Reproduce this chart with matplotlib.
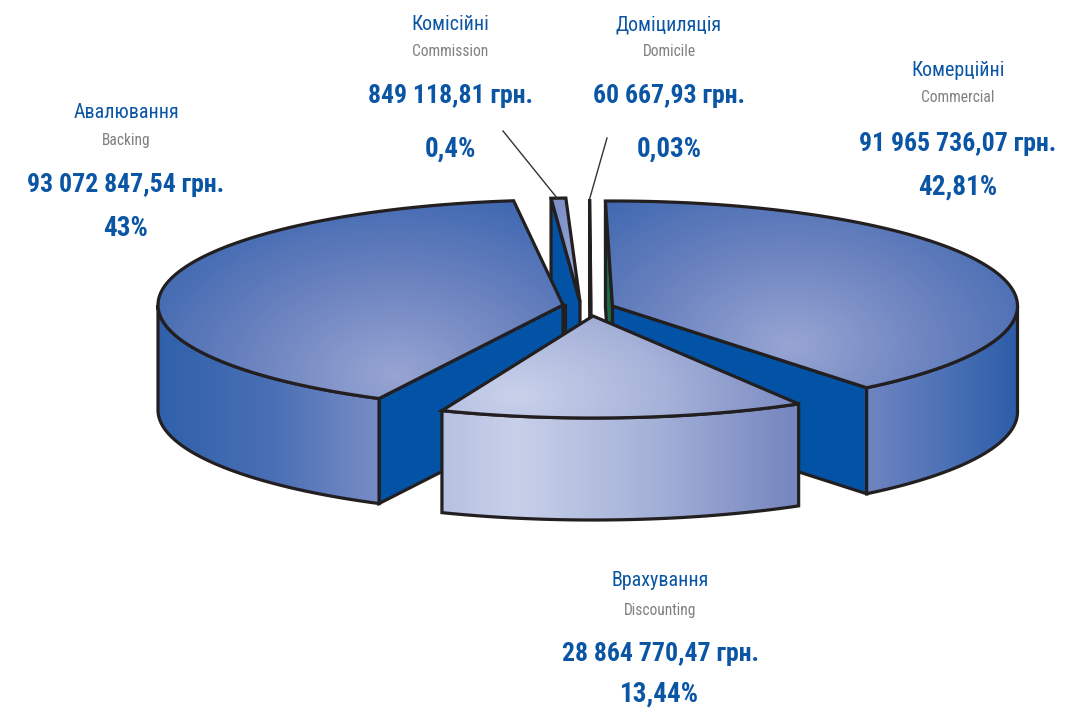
import numpy as np
import matplotlib
matplotlib.use("Agg")
import matplotlib.pyplot as plt
from matplotlib.colors import LinearSegmentedColormap
from matplotlib.patches import Polygon

names_uk = ["Авалювання", "Комісійні", "Доміциляція", "Комерційні", "Врахування"]
names_en = ["Backing", "Commission", "Domicile", "Commercial", "Discounting"]
amounts = ["93 072 847,54 грн.", "849 118,81 грн.", "60 667,93 грн.", "91 965 736,07 грн.", "28 864 770,47 грн."]
percent_labels = ["43%", "0,4%", "0,03%", "42,81%", "13,44%"]
shares = [43.0, 0.4, 0.03, 42.81, 13.44]

# layout of the exploded pie (pixel space)
A = 405.0
B = {0: 105.0, 1: 104.0, 2: 104.0, 3: 105.0, 4: 102.0}
H = {0: 105.0, 1: 105.0, 2: 105.0, 3: 106.0, 4: 102.0}
apex = {0: (563, 305), 1: (580, 302), 2: (591, 303), 3: (612.5, 306), 4: (593, 316)}
start = {0: 97.0, 1: 94.1, 2: 90.2, 3: 91.0, 4: -111.9}   # param angle where each wedge begins
scale = {0: 3.395, 1: 5.25, 2: 3.4, 3: 3.32, 4: 3.9}      # param degrees per percent
direction = {0: 1, 1: -1, 2: -1, 3: -1, 4: 1}

plt.rcParams['font.family'] = ['Roboto Condensed', 'Liberation Sans', 'DejaVu Sans']
INK = "#231f20"
BLUE = "#0a55a4"
DARK = "#0253a5"
GREEN = "#1d6b45"
LW = 2.3

fig = plt.figure(figsize=(10.84, 7.08), dpi=100)
ax = fig.add_axes([0, 0, 1, 1])
ax.set_xlim(0, 1084)
ax.set_ylim(708, 0)
ax.axis("off")

gx, gy = np.meshgrid(np.arange(0, 1084, 1.0), np.arange(0, 708, 1.0))


def rim(i, t0, t1, n=120, drop=0.0):
    t = np.radians(np.linspace(t0, t1, n))
    cx, cy = apex[i]
    return np.c_[cx + A * np.cos(t), cy - B[i] * np.sin(t) + drop]


def span(i):
    return start[i], start[i] + direction[i] * shares[i] * scale[i]


def fill(field, colours, pts, z):
    cmap = LinearSegmentedColormap.from_list("g", colours)
    patch = Polygon(pts, closed=True, fc="none", ec="none", zorder=z)
    ax.add_patch(patch)
    im = ax.imshow(field, cmap=cmap, vmin=0, vmax=1, extent=(0, 1084, 708, 0),
                   interpolation="bilinear", aspect="auto", zorder=z)
    im.set_clip_path(patch)


def outline(pts, z):
    ax.add_patch(Polygon(pts, closed=True, fc="none", ec=INK, lw=LW, joinstyle="miter", zorder=z))


def flat(pts, colour, z):
    ax.add_patch(Polygon(pts, closed=True, fc=colour, ec=INK, lw=LW, joinstyle="miter", zorder=z))


def radial(cx, cy, rx, ry):
    return np.clip(np.hypot((gx - cx) / rx, (gy - cy) / ry), 0, 1)


def linear(x0, x1):
    return np.clip((gx - x0) / (x1 - x0), 0, 1)


def wall(i, t0, t1):
    return np.r_[rim(i, t0, t1), rim(i, t1, t0, drop=H[i])]


def cut(i, t):
    cx, cy = apex[i]
    p = rim(i, t, t, n=1)[0]
    return np.array([(cx, cy), p, (p[0], p[1] + H[i]), (cx, cy + H[i])])


def top_face(i):
    t0, t1 = span(i)
    return np.r_[[apex[i]], rim(i, t0, t1)]


# Авалювання
t0, t1 = span(0)
flat(cut(0, t1), DARK, 5)
w = wall(0, 180, t1)
fill(linear(158, 385), ["#2f61aa", "#4a6fb5", "#7a8fc7"], w, 6)
outline(w, 6.5)
f = top_face(0)
fill(radial(395, 375, 420, 280), ["#97a5d3", "#6d84c0", "#4169b1", "#2f60a9"], f, 7)
outline(f, 7.5)
flat(np.array([apex[0], (apex[0][0] + 2, apex[0][1]), (apex[0][0] + 2, apex[0][1] + 60), (apex[0][0], apex[0][1] + 60)]), DARK, 4)

# Комісійні
t0, t1 = span(1)
flat(cut(1, t0), DARK, 3)
f = top_face(1)
fill(radial(575, 300, 30, 110), ["#a0acd6", "#7d90c8"], f, 3.2)
outline(f, 3.4)

# Доміциляція
flat(cut(2, start[2]), DARK, 3)

# Комерційні
t0, t1 = span(3)
flat(cut(3, t0), GREEN, 4)
flat(cut(3, t1), DARK, 5)
w = wall(3, t1, 0)
fill(linear(867, 1018), ["#7085c2", "#4d72b6", "#2c5da8"], w, 6)
outline(w, 6.5)
f = top_face(3)
fill(radial(790, 345, 420, 280), ["#97a5d3", "#6d84c0", "#4169b1", "#2f60a9"], f, 7)
outline(f, 7.5)

# Врахування
t0, t1 = span(4)
w = wall(4, t0, t1)
fill(np.where(gx < 515, (515 - gx) / 300, (gx - 515) / 285).clip(0, 1),
     ["#c8d0e9", "#a3b0d8", "#7484be"], w, 8)
outline(w, 8.5)
f = top_face(4)
fill(radial(515, 395, 300, 160), ["#c9d1ea", "#a6b2d9", "#7686c0"], f, 9)
outline(f, 9.5)

# leader lines
ax.plot([503, rim(1, start[1], start[1], n=1)[0][0] + 6], [131, 198], color="#333333", lw=1.0, zorder=10)
ax.plot([607, rim(2, start[2], start[2], n=1)[0][0]], [138, 199], color="#333333", lw=1.0, zorder=10)

# labels
label_x = [126, 450, 669, 958, 660]
label_y = [(112, 140, 185, 228), (25, 52, 96, 149), (25, 52, 96, 149), (71, 98, 144, 187), (581, 610, 654, 694)]
for k in range(5):
    x, (y1, y2, y3, y4) = label_x[k], label_y[k]
    ax.text(x, y1, names_uk[k], ha="center", va="center", fontsize=14.4, color=BLUE)
    ax.text(x, y2, names_en[k], ha="center", va="center", fontsize=11.2, color="#808080")
    ax.text(x, y3, amounts[k], ha="center", va="center", fontsize=18.5, fontweight="bold", color=BLUE)
    ax.text(x, y4, percent_labels[k], ha="center", va="center", fontsize=19.5, fontweight="bold", color=BLUE)

ax.set_xlim(0, 1084)
ax.set_ylim(708, 0)
fig.savefig("out.png", dpi=100)
